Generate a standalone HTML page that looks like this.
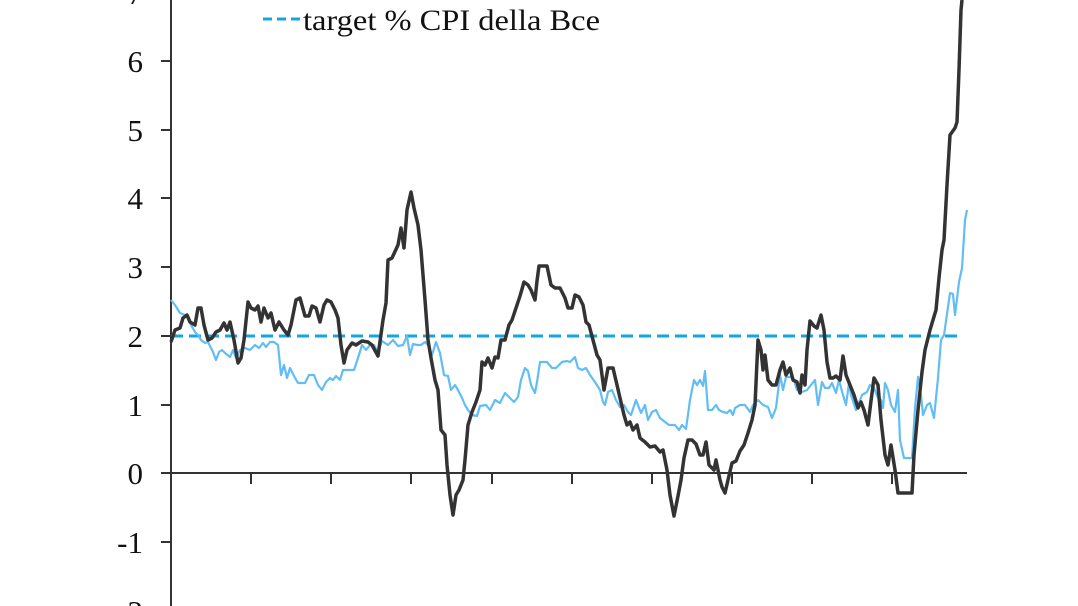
<!DOCTYPE html>
<html><head><meta charset="utf-8"><style>
html,body{margin:0;padding:0;background:#fff;}
svg{display:block;}
text{font-family:"Liberation Serif",serif;font-size:31px;fill:#111;}
</style></head><body>
<svg width="1078" height="606" viewBox="0 0 1078 606" xmlns="http://www.w3.org/2000/svg">
<g text-anchor="end">
<text x="143" y="4">7</text>
<text x="143" y="72">6</text>
<text x="143" y="141">5</text>
<text x="143" y="209">4</text>
<text x="143" y="278">3</text>
<text x="143" y="347">2</text>
<text x="143" y="416">1</text>
<text x="143" y="484">0</text>
<text x="143" y="553">-1</text>
<text x="143" y="622">-2</text>
</g>
<g stroke="#333" stroke-width="2">
<line x1="171" y1="0" x2="171" y2="606"/>
<line x1="161" y1="61" x2="171" y2="61"/><line x1="161" y1="130" x2="171" y2="130"/>
<line x1="161" y1="198" x2="171" y2="198"/><line x1="161" y1="267" x2="171" y2="267"/>
<line x1="161" y1="336" x2="171" y2="336"/><line x1="161" y1="405" x2="171" y2="405"/>
<line x1="161" y1="473" x2="171" y2="473"/><line x1="161" y1="542" x2="171" y2="542"/>
<line x1="171" y1="473" x2="967" y2="473"/>
<line x1="251" y1="473" x2="251" y2="484"/><line x1="331" y1="473" x2="331" y2="484"/>
<line x1="411" y1="473" x2="411" y2="484"/><line x1="492" y1="473" x2="492" y2="484"/>
<line x1="572" y1="473" x2="572" y2="484"/><line x1="652" y1="473" x2="652" y2="484"/>
<line x1="732" y1="473" x2="732" y2="484"/><line x1="812" y1="473" x2="812" y2="484"/>
<line x1="892" y1="473" x2="892" y2="484"/>
</g>
<line x1="171" y1="336" x2="962" y2="336" stroke="#14a5e3" stroke-width="3" stroke-dasharray="12,6"/>
<polyline fill="none" stroke="#62bdf5" stroke-width="2.2" stroke-linejoin="round" points="171,300 175,305 180,313 185,315 188,318 191,325 195,332 198,335 201,340 205,343 208,342 213,352 216,360 219,352 222,350 225,353 230,357 233,350 236,358 240,350 245,348 250,350 255,345 259,348 263,343 266,347 270,342 274,342 278,345 281,375 284,365 287,378 290,368 294,376 298,383 305,383 309,375 314,375 318,385 322,390 326,382 330,378 333,380 336,376 340,380 343,370 347,370 354,370 358,358 362,345 366,350 370,345 374,345 378,352 382,341 388,345 393,340 398,346 403,345 407,336 410,355 413,344 417,345 421,345 425,342 428,345 432,355 436,342 440,353 444,375 448,376 451,390 455,385 458,390 462,398 465,405 468,410 472,415 477,416 480,406 486,405 490,410 495,400 500,403 505,393 510,398 514,402 518,397 521,380 525,368 528,371 531,385 535,393 537,382 540,362 547,362 552,368 556,368 562,362 567,361 570,362 575,357 578,368 582,370 586,368 590,375 595,382 600,390 603,402 605,405 608,392 612,390 616,400 620,407 624,405 628,412 631,415 636,400 641,413 645,405 648,420 652,412 656,410 660,418 665,422 669,425 675,425 679,430 682,425 686,429 690,400 694,380 697,385 700,380 703,386 705,371 708,410 712,410 716,405 719,410 723,412 727,413 730,410 733,415 735,408 740,405 745,405 750,412 753,405 758,400 761,403 763,405 768,407 772,418 776,408 780,375 783,390 786,377 793,377 797,390 802,392 807,390 811,385 815,380 818,405 822,382 825,388 829,388 832,383 836,393 839,380 843,395 846,405 849,383 851,395 856,410 858,405 862,395 867,392 870,385 874,388 878,398 881,400 883,408 885,383 888,390 891,405 895,412 898,390 900,440 904,458 912,458 915,408 918,377 921,395 923,415 927,405 930,403 934,418 938,378 941,340 944,335 947,314 950,293 953,294 955,315 959,282 962,268 965,220 967,210"/>
<polyline fill="none" stroke="#333" stroke-width="3.5" stroke-linejoin="round" points="171,342 175,330 180,328 183,318 187,315 190,322 195,325 198,308 201,308 204,325 208,340 212,338 216,332 220,330 224,323 227,330 230,322 234,340 238,363 241,358 244,340 248,302 251,308 255,310 258,306 261,322 264,308 268,318 271,313 275,330 279,322 284,330 288,335 291,325 296,300 300,298 305,316 309,316 312,306 316,308 320,322 324,305 327,300 331,302 335,310 338,318 341,345 344,363 347,350 352,343 356,345 362,341 368,342 372,345 378,356 383,320 386,303 388,260 392,258 398,245 401,228 404,248 407,210 411,192 414,208 418,225 421,250 425,300 428,340 431,358 435,380 438,390 441,430 445,435 447,465 450,495 453,515 456,495 459,490 463,480 465,460 468,425 472,412 476,402 480,390 482,362 485,365 488,358 492,368 495,357 498,358 501,340 505,340 509,325 512,320 516,308 520,296 524,282 528,285 531,290 535,300 537,281 539,266 547,266 551,285 555,288 560,288 565,298 568,308 572,308 575,295 579,297 583,305 586,322 589,325 593,340 597,355 600,360 604,390 608,368 613,368 617,385 620,398 624,415 627,425 630,422 633,430 637,425 640,438 645,442 650,447 655,446 660,452 663,450 667,470 670,495 674,516 678,496 681,480 684,458 688,440 692,440 696,444 700,455 703,455 706,442 709,465 714,470 716,460 720,480 722,487 725,493 728,480 732,463 736,461 740,451 744,445 748,433 752,420 755,405 758,340 761,350 763,370 765,355 768,380 772,385 776,385 780,370 783,362 786,375 790,368 793,380 797,382 800,393 802,375 805,385 807,350 810,321 814,326 817,328 821,315 824,330 827,362 830,378 833,378 836,376 840,380 843,356 846,375 850,385 854,395 858,408 861,402 864,410 868,425 871,401 874,378 878,385 881,420 885,455 888,465 891,445 895,470 898,493 901,493 912,493 914,455 918,410 922,372 925,350 930,330 933,320 936,310 939,278 942,250 944,240 947,185 950,135 955,128 957,122 959,70 961,10 962,0"/>
<line x1="263" y1="19" x2="300" y2="19" stroke="#14a5e3" stroke-width="3" stroke-dasharray="9,5"/>
<text x="303" y="30" style="font-size:30px" textLength="297" lengthAdjust="spacingAndGlyphs">target % CPI della Bce</text>
</svg>
</body></html>
